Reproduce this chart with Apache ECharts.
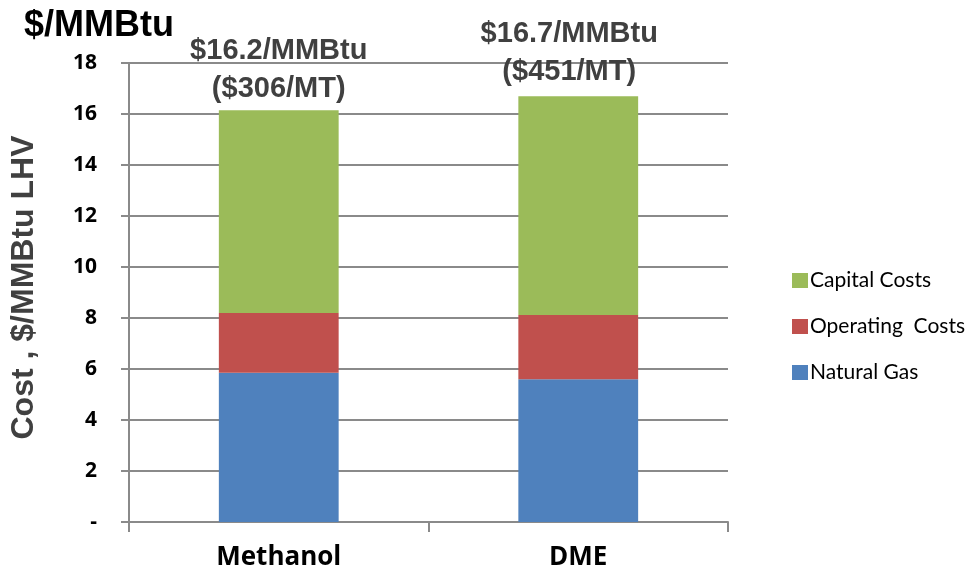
<!DOCTYPE html>
<html>
<head>
<meta charset="utf-8">
<script src="https://cdn.jsdelivr.net/npm/echarts@6/dist/echarts.min.js"></script>
<style>
  html, body { margin: 0; padding: 0; background: #fff; }
  #chart { width: 975px; height: 577px; }
</style>
</head>
<body>
<div id="chart"></div>
<script>
// categories and stacked cost components ($/MMBtu LHV)
const categories = ['Methanol', 'DME'];
const naturalGas = [5.85, 5.6];
const operatingCosts = [2.35, 2.52];
const capitalCosts = [7.95, 8.58];
const totalLabels = ['$16.2/MMBtu\n($306/MT)', '$16.7/MMBtu\n($451/MT)'];
const yTicks = { min: 0, max: 18, interval: 2 };

let myChart = echarts.init(document.getElementById('chart'));

const axisGray = '#8a8a8a';

var option = {
  backgroundColor: '#ffffff',
  animation: false,
  title: {
    text: '$/MMBtu',
    left: 19,
    top: 3,
    textStyle: {
      fontFamily: 'Liberation Sans',
      fontWeight: 'bold',
      fontSize: 36,
      color: '#000'
    }
  },
  legend: {
    orient: 'vertical',
    left: 787,
    top: 265,
    itemWidth: 16,
    itemHeight: 15,
    itemGap: 25,
    icon: 'rect',
    data: ['Capital Costs', 'Operating  Costs', 'Natural Gas'],
    textStyle: {
      fontFamily: 'Lato',
      fontSize: 21,
      color: '#000',
      padding: [0, 0, 0, -3]
    }
  },
  grid: {
    left: 126,
    right: 247,
    top: 63,
    bottom: 55
  },
  xAxis: {
    type: 'category',
    data: categories,
    axisLine: { lineStyle: { color: axisGray, width: 2 } },
    axisTick: { show: true, length: 10, lineStyle: { color: axisGray, width: 2 } },
    axisLabel: {
      margin: 23,
      fontFamily: 'Open Sans',
      fontWeight: 'bold',
      fontSize: 26,
      color: '#000'
    }
  },
  yAxis: {
    type: 'value',
    min: yTicks.min,
    max: yTicks.max,
    interval: yTicks.interval,
    name: 'Cost , $/MMBtu LHV',
    nameLocation: 'middle',
    nameGap: 89,
    nameTextStyle: {
      fontFamily: 'Liberation Sans',
      fontWeight: 'bold',
      fontSize: 32,
      color: '#404040',
      padding: [0, 0, 0, 10]
    },
    axisLine: { show: true, lineStyle: { color: axisGray, width: 2 } },
    axisTick: { show: true, length: 8, lineStyle: { color: axisGray, width: 2 } },
    splitLine: { lineStyle: { color: axisGray, width: 2 } },
    axisLabel: {
      margin: 32,
      fontFamily: 'Open Sans',
      fontWeight: 'bold',
      fontSize: 21,
      color: '#000',
      formatter: function(v) {
        return v === 0 ? '-' : String(v)
      }
    }
  },
  series: [
    {
      name: 'Natural Gas',
      type: 'bar',
      stack: 'cost',
      barWidth: '40%',
      itemStyle: { color: '#4F81BD' },
      data: naturalGas
    },
    {
      name: 'Operating  Costs',
      type: 'bar',
      stack: 'cost',
      itemStyle: { color: '#C0504D' },
      data: operatingCosts
    },
    {
      name: 'Capital Costs',
      type: 'bar',
      stack: 'cost',
      itemStyle: { color: '#9BBB59' },
      data: capitalCosts.map(function(v, i) {
        return {
          value: v,
          label: i === 1 ? { distance: 5, offset: [-9, 0] } : { distance: 2 }
        }
      }),
      label: {
        show: true,
        position: 'top',
        fontFamily: 'Liberation Sans',
        fontWeight: 'bold',
        fontSize: 29,
        lineHeight: 38,
        color: '#404040',
        formatter: function(p) {
          return totalLabels[p.dataIndex]
        }
      }
    }
  ]
}

myChart.setOption(option)
</script>
</body>
</html>
